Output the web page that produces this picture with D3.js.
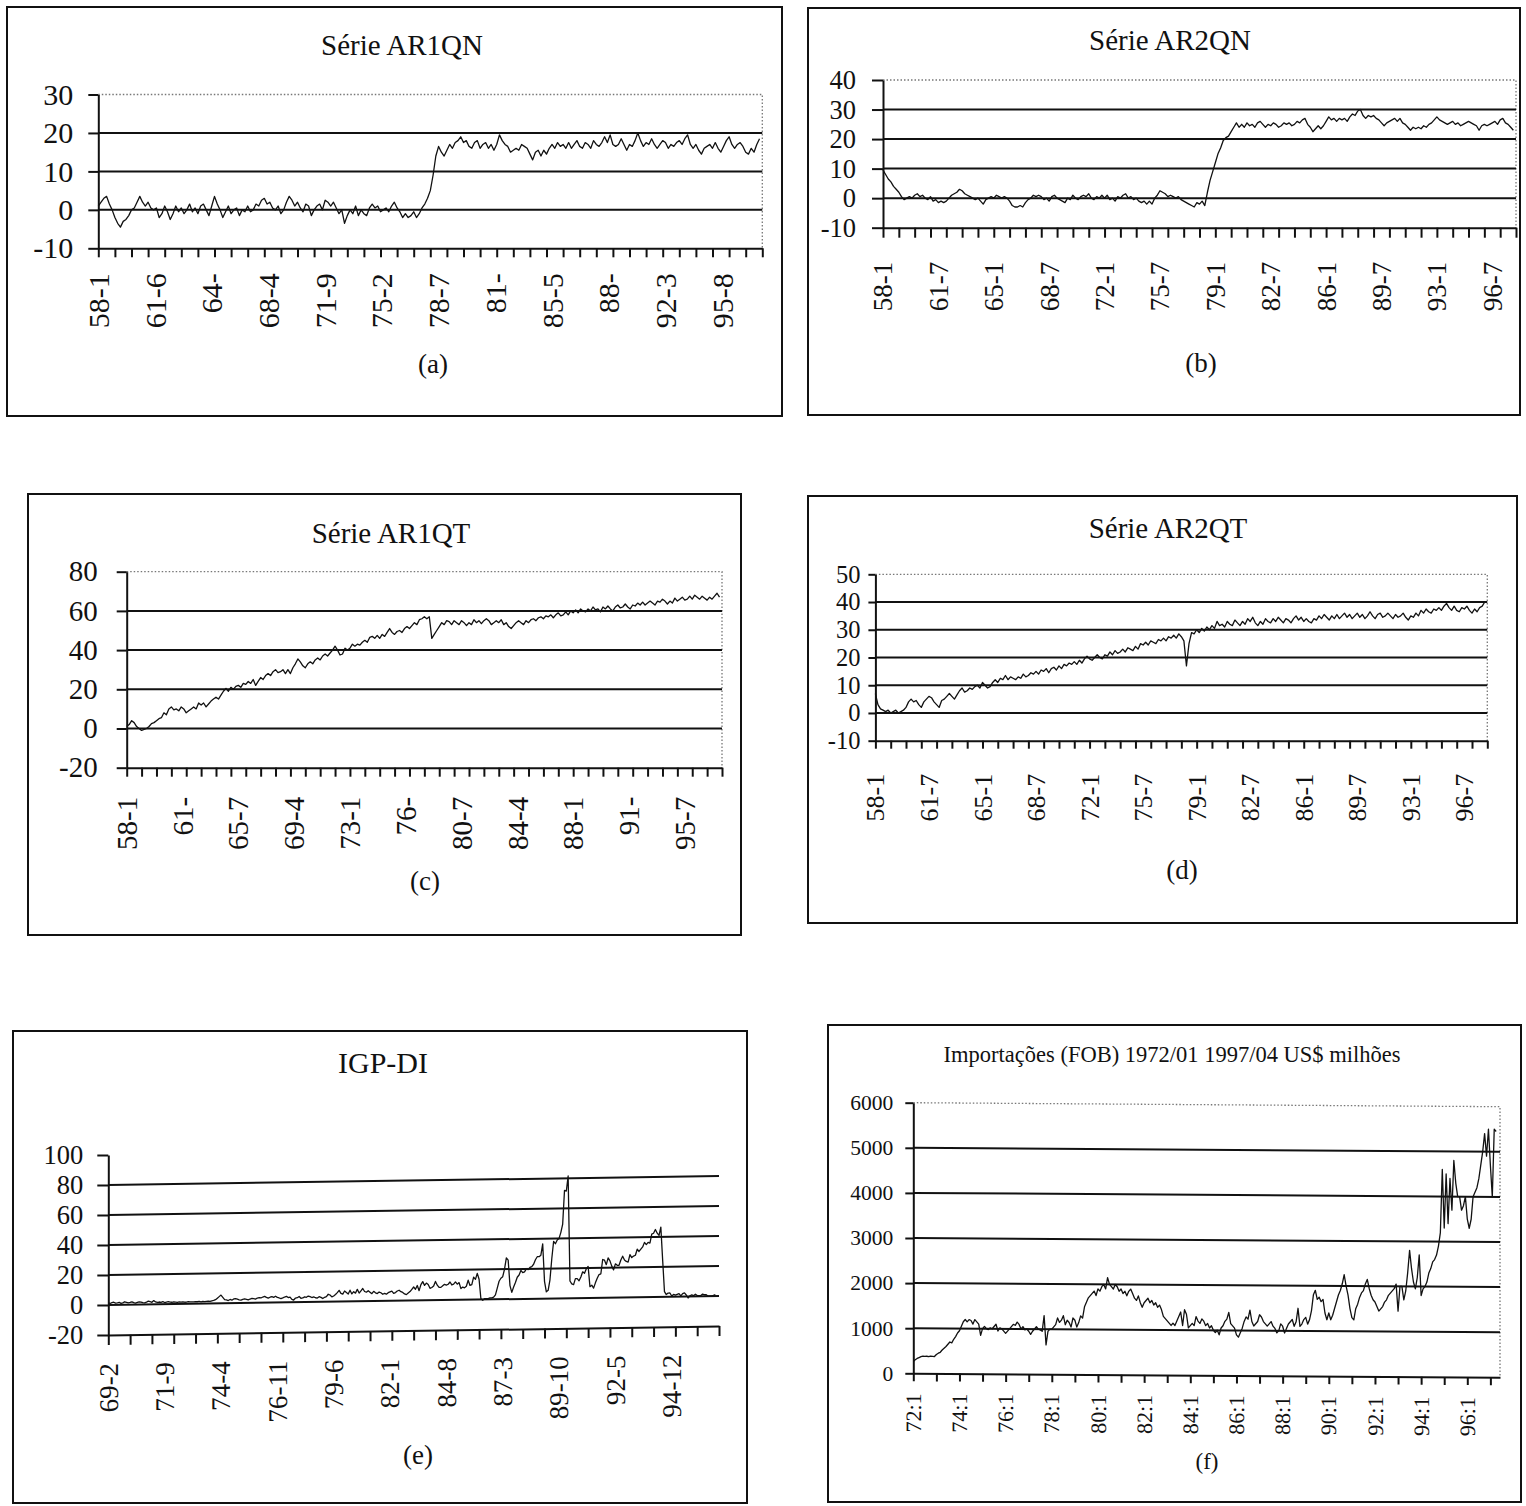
<!DOCTYPE html>
<html>
<head>
<meta charset="utf-8">
<script src="https://cdn.jsdelivr.net/npm/d3@7"></script>
<style>
  body { margin: 0; background: #fff; }
  svg text { font-family: "Liberation Serif", "Times New Roman", serif; fill: #111; }
</style>
</head>
<body>
<svg id="fig" width="1526" height="1506"></svg>
<script>
// ---------------- data ----------------
// AR1QN, simulated series, one value every second month from 58-1
const ar1qnValues = [
  1, 2, 3, 3.5, 1.5, 0, -2, -3.5, -4.5, -3, -2.5, -1.5, 0, 0.5, 2, 3.5, 2, 1, 2, 0.5,
  0, 0.5, -2, -1, 1, -0.5, -2.5, -1, 1, -0.5, 0.5, -1, 0, 1.5, -0.5, 0.5, -1, 1, 1.5, 0,
  -1.5, 1, 3.5, 1.5, 0, -2, -0.5, 1, -1, 0, 0.5, -1.5, 0, -0.5, 1, -0.5, 0, 1.5, 1, 2.5,
  3, 1.5, 2, 0.5, 0, 1, -1, 0, 2, 3.5, 2.5, 1, 2, 0.5, -0.5, 1.5, 1, -1.5, 0, 1,
  1.5, 0, 2.5, 2, 1, 2, 0.5, -1, 0, -3.5, -1.5, 0, -1, 1, -1.5, 0, -1, -1.5, 0.5, 1.5,
  0.5, 1, -0.5, 0, 0.5, -0.5, 1, 2, 0.5, -0.5, -2, -1, -2, -1.5, -0.5, -2, -1, 0.5, 1.5, 3,
  5, 9, 14, 16.5, 15, 14, 15.5, 17, 16, 17.5, 18, 19, 17.5, 18, 16.5, 16, 17.5, 18, 16, 17,
  17.5, 16, 17, 15.5, 17, 19.5, 18, 17, 16.5, 15, 15.5, 16, 15.5, 17, 16.5, 16, 14.5, 13, 15, 15.5,
  14, 15.5, 14.5, 16, 17, 16, 17.5, 16.5, 17, 16, 17.5, 16, 17, 18, 16.5, 16, 17.5, 17, 16, 18,
  17, 16.5, 17.5, 19, 17.5, 19.5, 17, 16.5, 17, 18.5, 17, 15.5, 17, 16.5, 18, 20, 18, 16.5, 17.5, 17,
  18.5, 17, 16, 17, 18, 17.5, 16, 17, 16.5, 17.5, 18, 17, 18.5, 19.5, 17, 16, 17, 15.5, 14.5, 16,
  16.5, 17, 16, 17.5, 16, 15, 16.5, 18, 19, 17, 16, 17, 17.5, 16.5, 15, 14.5, 16, 15, 17, 18.5
];
const ar1qnYTicks = [-10, 0, 10, 20, 30];
const ar1qnLabels = ["58-1", "61-6", "64-", "68-4", "71-9", "75-2", "78-7", "81-", "85-5", "88-", "92-3", "95-8"];

// AR2QN
const ar2qnValues = [
  9.5, 8, 6.5, 5.5, 4, 3, 2, 0.5, -0.5, 0, 0.5, 0, 1, 1.5, 0.5, 1, 0, -0.5, 0.5, -1,
  -0.5, -1.5, -1, -1.5, -1, 0, 1, 1.5, 2, 3, 2.5, 1.5, 1, 0.5, 0, -0.5, 0, -1, -2, -0.5,
  0, 0.5, 0, 1, 0.5, 0, 0.5, 0, -1, -2.5, -3, -3, -2.5, -3, -1.5, -0.5, 0, 1, 0.5, 1,
  0.5, -0.5, 0, -1, 0.5, 1, 0, -0.5, -1, -1.5, 0, -0.5, 1, 0, -0.5, 0.5, 1, 0.5, 1.5, 0,
  -0.5, 0.5, 0, 1, 0, 1, -0.5, 0, -1, 0.5, 0, 1, 1.5, 0, 0.5, -0.5, 0, -1, -1.5, -1,
  -2, -1, -2, 0, 1, 2.5, 2, 1.5, 0.5, 1, 0.5, 0, 0.5, -0.5, -1, -1.5, -2, -2.5, -3, -1.5,
  -2, -1, -2.5, 2, 6, 9, 12, 15, 17, 19.5, 20.5, 21, 22.5, 24, 25.5, 24, 25, 24, 25.5, 24.5,
  25, 24, 25.5, 26, 25, 24, 25, 24.5, 25.5, 25, 24, 24.5, 25.5, 25, 25.5, 24.5, 25, 26, 25.5, 26.5,
  27, 25, 24, 22.5, 23.5, 24.5, 23.5, 24.5, 26, 27.5, 26.5, 27, 26, 27, 26.5, 27, 26, 27.5, 28.5, 28,
  29.5, 30, 28, 27, 28, 27.5, 28, 27, 26.5, 25.5, 24.5, 25.5, 26, 26.5, 27, 26, 27, 25.5, 25, 24,
  23, 24, 23.5, 24, 23.5, 24.5, 24, 25, 25.5, 26.5, 27.5, 26.5, 26, 25.5, 25, 25.5, 26, 25, 25.5, 24.5,
  25, 25.5, 26, 25.5, 25, 24.5, 23, 24.5, 25, 24.5, 25, 25.5, 26, 25, 26.5, 27, 25.5, 25, 24, 23
];
const ar2qnYTicks = [-10, 0, 10, 20, 30, 40];
const ar2qnLabels = ["58-1", "61-7", "65-1", "68-7", "72-1", "75-7", "79-1", "82-7", "86-1", "89-7", "93-1", "96-7"];

// AR1QT
const ar1qtValues = [
  1, 2, 4, 3, 1, 0, -1, -0.5, 0, 1, 2.5, 3, 4, 5, 5.5, 8, 7, 10, 11, 9.5,
  10, 9, 11, 10, 8, 9, 10, 11, 10, 13, 12, 13, 11, 12.5, 14, 15, 16, 15, 17, 19,
  20.5, 19, 21, 20, 21.5, 22, 21, 23, 22.5, 24, 23, 25, 22, 24, 26, 25, 27, 28, 27, 29,
  30, 28.5, 29, 30, 28, 30, 28, 31, 33, 35.5, 34, 32, 31, 33, 34, 33, 35, 36, 35, 37,
  38, 37, 38.5, 40, 42, 40, 37.5, 38, 41, 40, 41, 43, 42, 43, 42.5, 44, 45, 44, 46.5, 47,
  46, 47.5, 46, 48, 47, 49, 51, 49, 48, 49.5, 50, 49, 51, 52, 51, 52.5, 54, 53, 55.5, 56,
  57, 56, 57, 46, 48, 50, 52, 54, 53, 55, 54.5, 53, 55, 54, 53, 55, 54, 52.5, 54, 53,
  55.5, 54, 55, 53.5, 55, 56, 55, 53, 54, 55, 54, 55.5, 53, 54, 52, 51, 52.5, 54, 55, 54,
  53, 55, 54, 55.5, 56, 55, 56.5, 57, 56, 57.5, 57, 58, 56.5, 58, 59, 57.5, 58, 59.5, 58, 60,
  59, 60.5, 59, 61, 60, 59.5, 61, 60, 62, 60.5, 61, 59.5, 62, 61, 62.5, 61, 60, 62, 63, 61.5,
  62, 63.5, 62, 61, 63, 62.5, 64, 63, 64.5, 63, 64, 65, 64, 63, 65, 64.5, 66, 65, 63.5, 65,
  64, 66.5, 65, 66, 67, 65.5, 66, 67.5, 66, 68, 67, 66, 67.5, 66.5, 65.5, 67, 66, 67.5, 69, 67
];
const ar1qtYTicks = [-20, 0, 20, 40, 60, 80];
const ar1qtLabels = ["58-1", "61-", "65-7", "69-4", "73-1", "76-", "80-7", "84-4", "88-1", "91-", "95-7"];

// AR2QT
const ar2qtValues = [
  7, 3, 1.5, 1, 0.5, 1, 0, 0.5, 1, 0, 0.5, 1, 2, 4, 5, 4, 4.5, 3, 2, 4,
  5, 6, 5.5, 4, 3, 2, 4.5, 5, 6, 7, 6, 5, 6.5, 8, 9, 7.5, 8, 9, 8.5, 9.5,
  10, 9, 11, 10, 9, 9.5, 11, 12, 11, 12.5, 12, 13.5, 12, 13, 12.5, 12, 13, 12.5, 14, 13,
  13.5, 14.5, 14, 15, 14, 15.5, 15, 16, 14.5, 16, 16.5, 15.5, 17, 16, 17.5, 17, 18, 17.5, 18.5, 17.5,
  19, 18, 19.5, 20.5, 19.5, 19, 20, 21, 20, 19.5, 21, 20.5, 22, 21, 22.5, 21.5, 22, 23, 22, 23.5,
  23, 22.5, 24, 23, 25, 24.5, 25.5, 24.5, 26, 25.5, 25, 26.5, 26, 27, 26, 27.5, 27, 28, 27, 28.5,
  27.5, 26, 17, 25, 29, 28.5, 30, 29, 30.5, 29.5, 31, 30, 31.5, 30.5, 33, 31.5, 32, 31, 33, 32,
  31.5, 33.5, 32.5, 31.5, 33, 32, 34, 33, 34.5, 32.5, 31.5, 33, 32, 34, 33, 32.5, 34, 33, 34.5, 33.5,
  32.5, 34, 33.5, 32.5, 34, 35, 33.5, 34.5, 33, 34, 33, 32.5, 34, 33.5, 35, 34, 35.5, 34.5, 33.5, 35,
  34, 35.5, 34, 35, 36, 34.5, 35.5, 34, 35, 36, 34.5, 35.5, 34, 35, 36.5, 35, 34, 35.5, 36, 34.5,
  35, 36, 35, 34, 35.5, 34.5, 35, 36, 34.5, 33.5, 35, 34.5, 36, 35, 37, 36, 37.5, 36.5, 36, 37.5,
  37, 38, 37, 38.5, 39.5, 38, 37, 38.5, 37, 36.5, 38, 37.5, 38.5, 37, 36, 37.5, 36.5, 38, 38.5, 40
];
const ar2qtYTicks = [-10, 0, 10, 20, 30, 40, 50];
const ar2qtLabels = ["58-1", "61-7", "65-1", "68-7", "72-1", "75-7", "79-1", "82-7", "86-1", "89-7", "93-1", "96-7"];

// IGP-DI, monthly % change, 69-2 to 96-12
const igpValues = [
  1.5, 1.0, 1.5, 1.8, 1.2, 1.4, 1.7, 1.0, 1.3, 2.0, 1.6,
  1.2, 1.5, 1.9, 1.3, 1.0, 1.4, 1.8, 1.6, 1.2, 1.1, 1.5, 2.2,
  1.8, 1.4, 2.5, 1.6, 1.2, 1.5, 1.3, 1.7, 1.1, 1.4, 1.6, 1.3,
  1.2, 1.5, 1.3, 1.1, 1.4, 1.2, 1.3, 1.1, 1.2, 1.4, 1.3, 1.2,
  1.2, 1.4, 1.3, 1.5, 1.2, 1.4, 1.3, 1.5, 1.6, 1.4, 1.8, 2.0,
  2.5, 3.5, 4.5, 5.5, 4.0, 2.5, 2.2, 1.8, 2.5, 2.0, 2.8, 3.0,
  2.6, 2.2, 2.0, 2.5, 2.8, 2.4, 2.0, 2.6, 3.0, 2.8, 2.5, 3.2,
  3.5, 3.2, 3.8, 4.2, 3.5, 3.0, 3.6, 4.0, 3.5, 4.2, 3.4, 3.0,
  2.5, 3.0, 3.6, 4.0, 3.2, 3.5, 2.0, 1.5, 2.8, 3.0, 3.8, 2.6,
  2.8, 3.5, 3.2, 4.0, 3.6, 3.0, 3.4, 2.8, 2.6, 3.5, 3.0, 2.2,
  3.0, 3.5, 5.0, 4.5, 3.2, 3.8, 4.8, 6.0, 7.5, 5.5, 5.0, 7.0,
  6.0, 5.0, 7.5, 5.0, 6.5, 5.5, 8.0, 5.5, 7.0, 8.5, 6.5, 6.0,
  7.0, 6.0, 5.0, 6.5, 5.5, 5.0, 6.0, 5.5, 4.5, 5.0, 4.5, 5.5,
  6.0, 6.5, 5.0, 5.5, 6.5, 7.0, 6.0, 5.5, 4.5, 4.0, 5.0, 6.0,
  7.5, 9.0, 7.5, 10.0, 6.5, 10.5, 12.5, 10.0, 11.5, 10.5, 8.0, 8.5,
  9.5, 12.5, 10.0, 8.5, 8.5, 9.5, 10.5, 10.0, 10.5, 12.0, 10.0, 10.5,
  12.0, 10.5, 11.5, 7.5, 8.5, 8.0, 9.0, 13.0, 9.5, 10.0, 15.0, 13.5,
  17.5, 13.5, 0.5, -0.5, 0.5, 0.5, 0.5, 1.0, 1.0, 1.5, 3.0, 7.5,
  12.0, 14.0, 15.0, 20.0, 27.5, 26.0, 9.0, 4.5, 8.0, 11.0, 14.5, 16.0,
  19.0, 17.5, 18.0, 20.0, 19.5, 21.0, 21.5, 23.0, 26.0, 28.0, 28.0, 29.0,
  36.5, 11.5, 4.5, 5.5, 12.5, 26.5, 38.0, 36.5, 39.0, 40.0, 44.0, 49.5,
  72.0, 71.5, 81.5, 11.5, 9.5, 9.0, 13.0, 13.0, 11.5, 14.0, 17.5, 16.5,
  19.5, 21.0, 7.5, 8.5, 6.5, 10.0, 13.0, 15.5, 16.0, 25.5, 25.0, 22.0,
  26.5, 24.5, 21.0, 18.5, 22.5, 21.5, 21.5, 25.0, 27.5, 25.0, 24.0, 23.5,
  28.5, 26.5, 27.5, 28.0, 32.0, 30.5, 32.0, 33.5, 36.5, 35.0, 36.5, 36.0,
  42.0, 42.5, 45.0, 42.5, 41.0, 46.5, 24.5, 3.5, 1.5, 2.5, 2.5, 0.5,
  1.5, 1.0, 1.5, 2.0, 0.5, 2.0, 2.5, 1.0, -1.0, 0.5, 1.0, 0.5,
  1.5, 0.5, 0.5, 0.5, 1.5, 1.0, 1.0, 0.0, 0.0, 0.0, 0.5, 1.0
];
const igpYTicks = [-20, 0, 20, 40, 60, 80, 100];
const igpLabels = ["69-2", "71-9", "74-4", "76-11", "79-6", "82-1", "84-8", "87-3", "89-10", "92-5", "94-12"];

// Imports (FOB), US$ million, monthly 1972:1 to 1997:4
const impValues = [
  260, 300, 330, 350, 370, 380, 375, 380, 370, 385, 380, 375,
  420, 450, 470, 520, 560, 600, 650, 700, 680, 760, 820, 900,
  950, 1050, 1150, 1200, 1150, 1200, 1180, 1100, 1200, 1150, 1100, 850,
  1000, 1050, 1000, 980, 1020, 1000, 1050, 1100, 950, 1020, 1000, 950,
  900, 950, 1000, 1050, 1100, 1080, 1150, 1100, 1000, 1050, 980, 1000,
  950, 880, 950, 1000, 1050, 1000, 980, 950, 1300, 650, 950, 1000,
  1000, 1050, 1100, 1250, 1150, 1200, 1300, 1100, 1200, 1150, 1050, 1250,
  1200, 1050, 1150, 1300, 1250, 1500, 1600, 1700, 1750, 1800, 1850, 1750,
  1900, 1850, 1950, 2000, 1900, 2150, 2000, 1950, 1900, 2000, 1950, 1850,
  1900, 1800, 1850, 1750, 1850, 1900, 1800, 1700, 1650, 1750, 1600, 1500,
  1600, 1650, 1700, 1600, 1650, 1550, 1600, 1500, 1550, 1450, 1300, 1250,
  1200, 1150, 1100, 1150, 1100, 1200, 1300, 1400, 1100, 1450, 1350, 1050,
  1100, 1150, 1100, 1300, 1200, 1150, 1250, 1200, 1100, 1150, 1050, 1100,
  1000, 950, 1000, 900, 1050, 1100, 1200, 1250, 1400, 1150, 1100, 1050,
  900, 850, 950, 1050, 1200, 1300, 1250, 1450, 1200, 1100, 1150, 1200,
  1350, 1300, 1200, 1150, 1100, 1150, 1200, 1100, 1050, 950, 1000, 1150,
  1100, 950, 1050, 1150, 1200, 1250, 1100, 1200, 1500, 1100, 1150, 1250,
  1300, 1150, 1250, 1450, 1800, 1900, 1700, 1750, 1650, 1700, 1400, 1250,
  1400, 1250, 1350, 1500, 1650, 1800, 1900, 2050, 2250, 2000, 1800, 1500,
  1300, 1250, 1500, 1600, 1750, 1850, 1900, 2050, 2150, 1950, 1800, 1700,
  1650, 1550, 1450, 1500, 1550, 1650, 1700, 1800, 1850, 1900, 1950, 2050,
  1450, 2000, 2000, 1700, 1900, 2300, 2800, 2400, 2100, 1950, 2200, 2700,
  1800, 1950, 2000, 2100, 2300, 2400, 2550, 2600, 2700, 2900, 3200, 4600,
  3300, 4500, 3400, 4400, 3700, 4800, 4300, 4000, 4000, 3700, 3800, 4000,
  3500, 3300, 3500, 4000, 4100, 4200, 4400, 4700, 5000, 5400, 4900, 5500,
  4700, 4000, 5500, 5450
];
const impYTicks = [0, 1000, 2000, 3000, 4000, 5000, 6000];
const impLabels = ["72:1", "74:1", "76:1", "78:1", "80:1", "82:1", "84:1", "86:1", "88:1", "90:1", "92:1", "94:1", "96:1"];

// ---------------- layout of the six panels ----------------
const panels = [
  { frame: [7, 7, 782, 416], title: "Série AR1QN", titleXY: [402, 55], titleSize: 29,
    tag: "(a)", tagXY: [433, 373], tagSize: 27,
    plot: { left: 98.3, right: 762.3, bottom: 248.3, top: 94.5 },
    yTicks: ar1qnYTicks, yFont: 30, yGap: 25, yTickLen: 10,
    months: 480, step: 2, values: ar1qnValues, labels: ar1qnLabels, labelEvery: 41,
    xFont: 30, xGap: 25, xTickLen: 9, border: true, skew: 0 },
  { frame: [808, 8, 1520, 415], title: "Série AR2QN", titleXY: [1170, 50], titleSize: 29,
    tag: "(b)", tagXY: [1201, 372], tagSize: 27,
    plot: { left: 883, right: 1516, bottom: 227.7, top: 80 },
    yTicks: ar2qnYTicks, yFont: 26.5, yGap: 27, yTickLen: 11,
    months: 480, step: 2, values: ar2qnValues, labels: ar2qnLabels, labelEvery: 42,
    xFont: 27, xGap: 34, xTickLen: 10, border: true, skew: 0 },
  { frame: [28, 494, 741, 935], title: "Série AR1QT", titleXY: [391, 543], titleSize: 29,
    tag: "(c)", tagXY: [425, 890], tagSize: 27,
    plot: { left: 126.7, right: 722, bottom: 767.7, top: 571.7 },
    yTicks: ar1qtYTicks, yFont: 29, yGap: 29, yTickLen: 10,
    months: 480, step: 2, values: ar1qtValues, labels: ar1qtLabels, labelEvery: 45,
    xFont: 29, xGap: 29, xTickLen: 9, border: true, skew: 0 },
  { frame: [808, 496, 1517, 923], title: "Série AR2QT", titleXY: [1168, 538], titleSize: 29,
    tag: "(d)", tagXY: [1182, 879], tagSize: 27,
    plot: { left: 875.4, right: 1487.3, bottom: 740.7, top: 574.3 },
    yTicks: ar2qtYTicks, yFont: 24.5, yGap: 15, yTickLen: 7,
    months: 480, step: 2, values: ar2qtValues, labels: ar2qtLabels, labelEvery: 42,
    xFont: 26, xGap: 33, xTickLen: 8, border: true, skew: 0 },
  { frame: [13, 1031, 747, 1503], title: "IGP-DI", titleXY: [383, 1073], titleSize: 30,
    tag: "(e)", tagXY: [418, 1464], tagSize: 27,
    plot: { left: 108.3, right: 719, bottom: 1335, top: 1155 },
    yTicks: igpYTicks, yFont: 26.5, yGap: 25, yTickLen: 11,
    months: 336, step: 1, values: igpValues, labels: igpLabels, labelEvery: 31,
    xFont: 27, xGap: 28, xTickLen: 10, border: false, skew: -0.84 },
  { frame: [828, 1025, 1521, 1502], title: "Importações (FOB) 1972/01 1997/04 US$ milhões", titleXY: [1172, 1062], titleSize: 22.5,
    tag: "(f)", tagXY: [1207, 1469], tagSize: 23,
    plot: { left: 913.3, right: 1500, bottom: 1373.3, top: 1102.7 },
    yTicks: impYTicks, yFont: 21.5, yGap: 20, yTickLen: 8,
    months: 305, step: 1, values: impValues, labels: impLabels, labelEvery: 24,
    xFont: 22, xGap: 20, xTickLen: 8, border: true, skew: 0.39 }
];

const svg = d3.select("#fig");
const INK = "#111";

panels.forEach(p => {
  const g = svg.append("g");
  const [fx0, fy0, fx1, fy1] = p.frame;
  const { left, right, bottom, top } = p.plot;

  // outer frame
  g.append("rect")
    .attr("x", fx0).attr("y", fy0)
    .attr("width", fx1 - fx0).attr("height", fy1 - fy0)
    .attr("fill", "none").attr("stroke", INK).attr("stroke-width", 2);

  // title and panel tag
  g.append("text").attr("x", p.titleXY[0]).attr("y", p.titleXY[1])
    .attr("text-anchor", "middle").attr("font-size", p.titleSize).text(p.title);
  g.append("text").attr("x", p.tagXY[0]).attr("y", p.tagXY[1])
    .attr("text-anchor", "middle").attr("font-size", p.tagSize).text(p.tag);

  const yMin = d3.min(p.yTicks), yMax = d3.max(p.yTicks);
  const y = d3.scaleLinear().domain([yMin, yMax]).range([bottom, top]);
  const x = d3.scaleLinear().domain([0, p.months]).range([left, right]);

  // plot body (gridlines, x axis, series), optionally sheared
  const body = g.append("g")
    .attr("transform", `translate(${left},${bottom}) skewY(${p.skew}) translate(${-left},${-bottom})`);

  // dotted plot-area border (top and right)
  if (p.border) {
    body.append("path")
      .attr("d", `M${left},${y(yMax)}H${right}V${y(yMin)}`)
      .attr("fill", "none").attr("stroke", "#777").attr("stroke-width", 1.3)
      .attr("stroke-dasharray", "1.5,2");
  }

  // major gridlines
  body.selectAll("line.grid")
    .data(p.yTicks.filter(v => v > yMin && v < yMax))
    .join("line").attr("class", "grid")
    .attr("x1", left).attr("x2", right)
    .attr("y1", d => y(d)).attr("y2", d => y(d))
    .attr("stroke", INK).attr("stroke-width", 2);

  // x axis: line and yearly tick marks
  const xAxis = d3.axisBottom(x)
    .tickValues(d3.range(0, p.months + 1, 12))
    .tickSize(p.xTickLen).tickSizeOuter(0).tickFormat("");
  const xg = body.append("g").attr("transform", `translate(0,${bottom})`).call(xAxis);
  xg.select(".domain").attr("stroke", INK).attr("stroke-width", 2);
  xg.selectAll(".tick line").attr("stroke", INK).attr("stroke-width", 2);

  // rotated category labels
  body.selectAll("text.xlab")
    .data(p.labels)
    .join("text").attr("class", "xlab")
    .attr("x", (d, k) => x(k * p.labelEvery))
    .attr("y", bottom + p.xGap)
    .attr("transform", (d, k) => `rotate(-90,${x(k * p.labelEvery)},${bottom + p.xGap})`)
    .attr("text-anchor", "end").attr("dy", "0.35em")
    .attr("font-size", p.xFont)
    .text(d => d);

  // series line
  const line = d3.line()
    .x((d, k) => x(k * p.step))
    .y(d => y(d));
  body.append("path")
    .datum(p.values)
    .attr("d", line)
    .attr("fill", "none").attr("stroke", INK)
    .attr("stroke-width", 1.3).attr("stroke-linejoin", "round");

  // y axis
  const yAxis = d3.axisLeft(y)
    .tickValues(p.yTicks)
    .tickSize(p.yTickLen).tickSizeOuter(0)
    .tickPadding(p.yGap - p.yTickLen)
    .tickFormat(d => String(d));
  const yg = g.append("g").attr("transform", `translate(${left},0)`).call(yAxis);
  yg.select(".domain").attr("stroke", INK).attr("stroke-width", 2);
  yg.selectAll(".tick line").attr("stroke", INK).attr("stroke-width", 2);
  yg.selectAll(".tick text")
    .attr("font-size", p.yFont)
    .attr("font-family", "Liberation Serif, Times New Roman, serif")
    .attr("fill", INK);
});
</script>
</body>
</html>
